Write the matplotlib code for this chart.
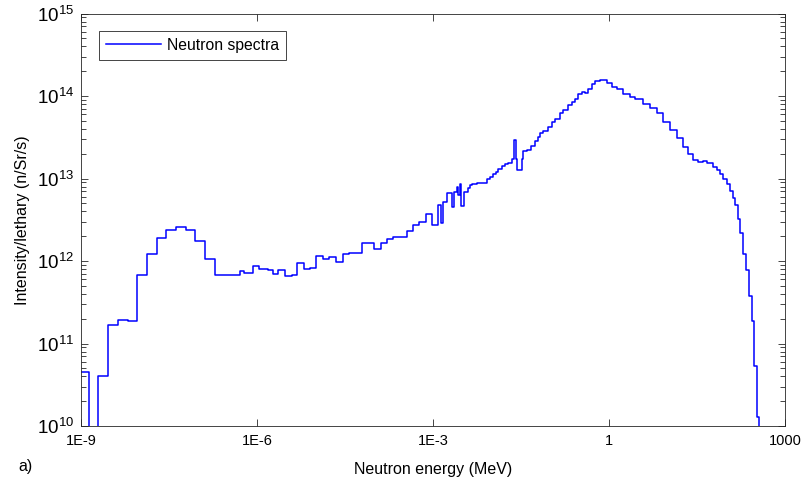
import numpy as np
import matplotlib
matplotlib.use("Agg")
import matplotlib.pyplot as plt
from matplotlib.ticker import LogLocator, FixedLocator, FixedFormatter, NullLocator

plt.rcParams['font.family'] = ['Liberation Sans', 'DejaVu Sans']
plt.rcParams['mathtext.fontset'] = 'custom'
plt.rcParams['mathtext.rm'] = 'Liberation Sans'
plt.rcParams['mathtext.it'] = 'Liberation Sans:italic'

# bin edges, log10(E / MeV)
log_energy_edges = [
    -9.000, -8.864, -8.705, -8.535, -8.364, -8.204, -8.040, -7.875, -7.710, -7.546,
    -7.381, -7.215, -7.052, -6.886, -6.716, -6.290, -6.217, -6.073, -5.961, -5.818,
    -5.733, -5.637, -5.523, -5.409, -5.313, -5.199, -5.097, -4.986, -4.870, -4.773,
    -4.654, -4.539, -4.427, -4.216, -4.001, -3.887, -3.789, -3.677, -3.449, -3.346,
    -3.234, -3.125, -3.022, -2.910, -2.855, -2.835, -2.767, -2.682, -2.637, -2.596,
    -2.569, -2.545, -2.528, -2.467, -2.399, -2.370, -2.341, -2.256, -2.085, -2.029,
    -1.973, -1.932, -1.887, -1.829, -1.773, -1.717, -1.659, -1.620, -1.586, -1.563,
    -1.488, -1.461, -1.393, -1.335, -1.262, -1.205, -1.177, -1.120, -1.035, -0.977,
    -0.921, -0.836, -0.779, -0.694, -0.636, -0.580, -0.524, -0.466, -0.410, -0.353,
    -0.295, -0.239, -0.154, -0.040, 0.046, 0.131, 0.243, 0.357, 0.443, 0.584,
    0.698, 0.813, 0.925, 1.039, 1.153, 1.266, 1.351, 1.436, 1.522, 1.607,
    1.665, 1.777, 1.835, 1.891, 1.948, 2.006, 2.062, 2.108, 2.147, 2.193,
    2.232, 2.278, 2.335, 2.380, 2.432, 2.476, 2.517, 2.561,
]

# intensity per lethargy in each bin (n/Sr/s)
intensity = [
    4.5e10, 0.0, 4.0e10, 1.66e11, 1.95e11, 1.9e11, 6.8e11, 1.2e12, 1.9e12, 2.35e12,
    2.55e12, 2.35e12, 1.75e12, 1.05e12, 6.8e11, 7.6e11, 7.1e11, 8.7e11, 7.9e11, 7.8e11,
    6.9e11, 7.8e11, 6.5e11, 6.8e11, 9.5e11, 8.1e11, 8.3e11, 1.15e12, 1.07e12, 1.12e12,
    9.8e11, 1.2e12, 1.26e12, 1.66e12, 1.38e12, 1.66e12, 1.86e12, 1.95e12, 2.34e12, 2.75e12,
    3.0e12, 3.7e12, 2.7e12, 4.8e12, 2.9e12, 5.2e12, 6.6e12, 4.5e12, 6.9e12, 7.9e12,
    6.3e12, 8.5e12, 4.6e12, 6.9e12, 7.6e12, 8.3e12, 8.5e12, 8.9e12, 9.8e12, 1.05e13,
    1.12e13, 1.2e13, 1.32e13, 1.41e13, 1.48e13, 1.55e13, 1.74e13, 2.95e13, 1.74e13, 1.26e13,
    1.74e13, 2.14e13, 2.24e13, 2.45e13, 2.82e13, 3.16e13, 3.55e13, 3.8e13, 4.27e13, 4.9e13,
    5.25e13, 6.2e13, 6.8e13, 7.8e13, 8.5e13, 9.3e13, 1.07e14, 1.12e14, 1.10e14, 1.23e14,
    1.41e14, 1.51e14, 1.55e14, 1.45e14, 1.29e14, 1.20e14, 1.07e14, 9.8e13, 9.1e13, 8.1e13,
    7.1e13, 6.2e13, 4.9e13, 3.9e13, 3.1e13, 2.4e13, 2.0e13, 1.7e13, 1.58e13, 1.62e13,
    1.55e13, 1.38e13, 1.26e13, 1.15e13, 1.0e13, 8.7e12, 7.1e12, 5.75e12, 4.8e12, 3.2e12,
    2.2e12, 1.23e12, 7.8e11, 3.8e11, 1.9e11, 5.4e10, 1.3e10,
]

xtick_vals = [1e-9, 1e-6, 1e-3, 1, 1000]
xtick_labels = ['1E-9', '1E-6', '1E-3', '1', '1000']

energy = 10.0 ** np.array(log_energy_edges)
y = np.append(intensity, 0.0)

fig = plt.figure(figsize=(8.08, 4.88), dpi=100)
ax = fig.add_axes([0.1002, 0.127, 0.8713, 0.8453])

ax.plot(energy, y, drawstyle='steps-post', color='#0000ff', lw=1.1,
        label='Neutron spectra')

ax.set_xscale('log')
ax.set_yscale('log', nonpositive='clip')
ax.set_xlim(1e-9, 1000)
ax.set_ylim(1e10, 1e15)

ax.xaxis.set_major_locator(FixedLocator(xtick_vals))
ax.xaxis.set_major_formatter(FixedFormatter(xtick_labels))
ax.xaxis.set_minor_locator(NullLocator())
ax.yaxis.set_major_locator(LogLocator(base=10, numticks=10))
ax.yaxis.set_minor_locator(LogLocator(base=10, subs=np.arange(2, 10), numticks=10))

ax.tick_params(which='both', direction='in', top=True, right=True,
               colors='#262626', labelcolor='black', width=0.6)
ax.tick_params(which='major', length=5)
ax.tick_params(which='minor', length=3.5)
ax.tick_params(axis='x', labelsize=10.5, pad=6)
ax.tick_params(axis='y', labelsize=13.5, pad=5)
for sp in ax.spines.values():
    sp.set_color('#262626')
    sp.set_linewidth(0.6)

ax.set_xlabel('Neutron energy (MeV)', fontsize=11.5, labelpad=10)
ax.set_ylabel('Intensity/lethary (n/Sr/s)', fontsize=11.5, labelpad=5)

leg = ax.legend(loc='upper left', bbox_to_anchor=(0.014, 0.977), fontsize=11.3,
                fancybox=False, framealpha=1, edgecolor='#262626',
                handlelength=3.5, borderpad=0.45, handletextpad=0.4)
leg.get_frame().set_linewidth(0.6)

fig.text(18 / 808, 1 - 467 / 488, 'a)', fontsize=11.5, va='center', ha='left')

fig.savefig('out.png', dpi=100)
